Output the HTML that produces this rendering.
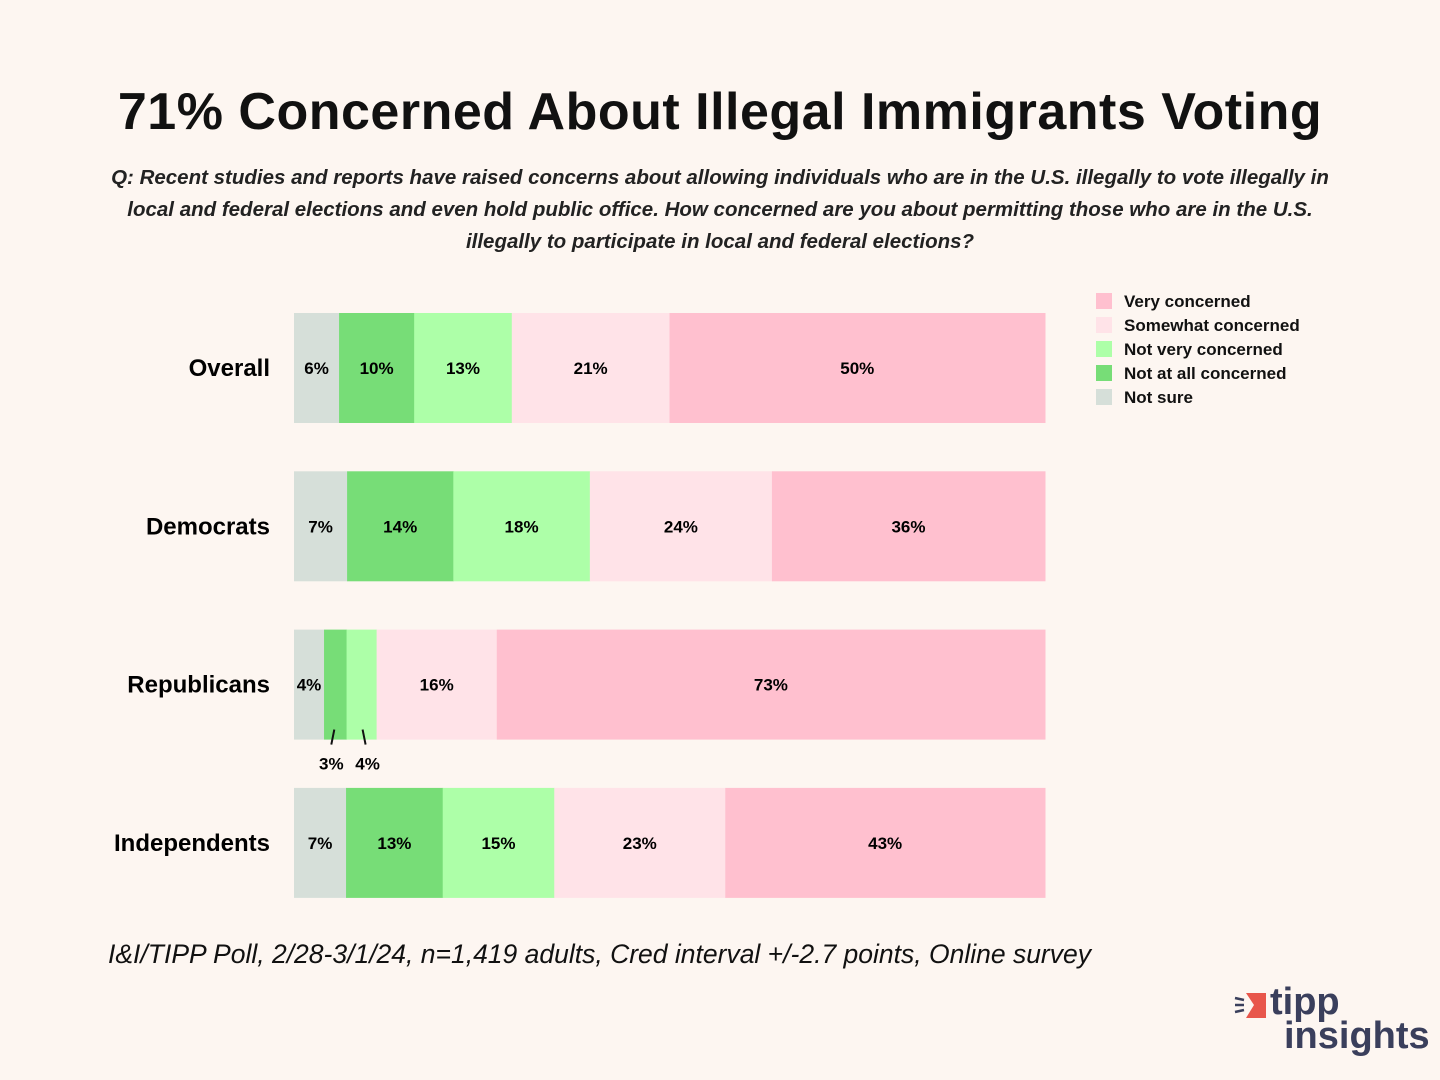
<!DOCTYPE html>
<html><head><meta charset="utf-8"><style>
body{margin:0;width:1440px;height:1080px;background:#fdf6f1;font-family:"Liberation Sans","DejaVu Sans",sans-serif;position:relative;overflow:hidden;color:#111}
#title{position:absolute;top:82px;left:0;width:1440px;text-align:center;font-size:52px;font-weight:bold;letter-spacing:0.5px}
#q{position:absolute;top:162px;left:60px;width:1320px;text-align:center;font-size:20.5px;font-style:italic;line-height:32px;font-weight:bold;color:#222;white-space:nowrap}
#src{position:absolute;top:939px;left:108px;font-size:26.5px;font-style:italic;color:#111}
.leg{position:absolute;left:1096px;font-size:17px;font-weight:bold;height:20px;line-height:20px}
.leg span{display:inline-block;width:16px;height:16px;vertical-align:-2px;margin-right:12px}
</style></head><body>
<div id="title">71% Concerned About Illegal Immigrants Voting</div>
<div id="q">Q: Recent studies and reports have raised concerns about allowing individuals who are in the U.S. illegally to vote illegally in<br>local and federal elections and even hold public office. How concerned are you about permitting those who are in the U.S.<br>illegally to participate in local and federal elections?</div>
<svg id="chart" width="1440" height="1080" style="position:absolute;left:0;top:0"></svg>
<div id="legend"></div>
<div id="src">I&amp;I/TIPP Poll, 2/28-3/1/24, n=1,419 adults, Cred interval +/-2.7 points, Online survey</div>
<div style="position:absolute;left:1234px;top:986px;width:200px;height:80px">
<svg width="34" height="30" style="position:absolute;left:0;top:4px"><line x1="1" y1="8" x2="10" y2="10" stroke="#3a3f5c" stroke-width="2.5"/><line x1="1" y1="15" x2="10" y2="15" stroke="#3a3f5c" stroke-width="2.5"/><line x1="1" y1="22" x2="10" y2="20" stroke="#3a3f5c" stroke-width="2.5"/><polygon points="12,3 32,3 32,28 12,28 20,15" fill="#e8564b"/></svg>
<div style="position:absolute;left:36px;top:-4px;font-size:38px;font-weight:bold;color:#3a3f5c;line-height:40px">tipp</div>
<div style="position:absolute;left:50px;top:30px;font-size:38px;font-weight:bold;color:#3a3f5c;line-height:40px">insights</div>
</div>
<script>
const groups=["Overall","Democrats","Republicans","Independents"];
const seriesNames=["Not sure","Not at all concerned","Not very concerned","Somewhat concerned","Very concerned"];
const notSure=[6,7,4,7];
const notAtAll=[10,14,3,13];
const notVery=[13,18,4,15];
const somewhat=[21,24,16,23];
const very=[50,36,73,43];
const colors=["#d6dfd9","#77dd77","#adffa8","#ffe3e8","#ffc0cf"];
const series=[notSure,notAtAll,notVery,somewhat,very];
const NS="http://www.w3.org/2000/svg";
const svg=document.getElementById('chart');
const x0=294,x1=1045,yTop=313,pitch=158.3,bh=110;
function yPos(i){return yTop+i*pitch;}
groups.forEach((g,i)=>{
  const total=series.reduce((s,a)=>s+a[i],0);
  const xs=v=>v/total*(x1-x0);
  const y=yPos(i);
  const lab=document.createElementNS(NS,'text');
  
  
  lab.setAttribute('x',270);lab.setAttribute('y',y+bh/2+8);lab.setAttribute('text-anchor','end');
  lab.setAttribute('font-size','24');lab.setAttribute('font-weight','bold');lab.textContent=g;svg.appendChild(lab);
  let cx=x0;
  series.forEach((arr,k)=>{
    const w=xs(arr[i]);
    const r=document.createElementNS(NS,'rect');
    
    
    r.setAttribute('x',cx);r.setAttribute('y',y);r.setAttribute('width',w+0.5);r.setAttribute('height',bh);r.setAttribute('fill',colors[k]);
    svg.appendChild(r);
    const t=document.createElementNS(NS,'text');
    
    
    t.setAttribute('font-size','17');t.setAttribute('font-weight','bold');t.setAttribute('text-anchor','middle');
    t.textContent=arr[i]+'%';
    if(k>0 && w<36){
      const lx=cx+w/2, d=(k==1?-1:1);
      const l=document.createElementNS(NS,'line');
      
      
      l.setAttribute('x1',lx+d*1);l.setAttribute('y1',y+bh-10);l.setAttribute('x2',lx+d*4);l.setAttribute('y2',y+bh+5);
      l.setAttribute('stroke','#111');l.setAttribute('stroke-width','2');svg.appendChild(l);
      t.setAttribute('x',lx+d*(k==1?4:6));t.setAttribute('y',y+bh+30);
    } else {t.setAttribute('x',cx+w/2);t.setAttribute('y',y+bh/2+6);}
    svg.appendChild(t);
    cx+=w;
  });
});
const leg=document.getElementById('legend');
const order=[4,3,2,1,0];
const legNames=["Not sure","Not at all concerned","Not very concerned","Somewhat concerned","Very concerned"];
order.forEach((k,j)=>{
  const d=document.createElement('div');
  d.className='leg';
  
  
  d.style.top=(292+j*24)+'px';
  d.innerHTML='<span style="background:'+colors[k]+'"></span>'+legNames[k];
  leg.appendChild(d);
});
</script>
</body></html>
